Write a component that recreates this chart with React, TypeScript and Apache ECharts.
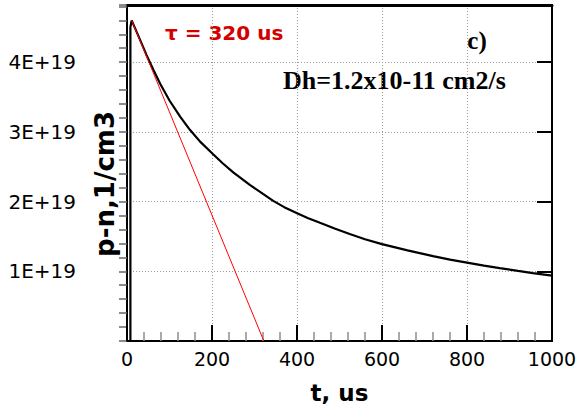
import React, { useEffect, useRef } from "react";
import * as echarts from "echarts";

// time, us
const tBlack = [8, 8, 11, 30, 46, 62, 78, 100, 125, 148, 172, 199, 225, 250, 289, 320, 344, 370, 399, 425, 454, 490, 524, 560, 600, 660, 720, 760, 800, 840, 877, 920, 955, 1000];
// p-n in units of 1E+19 1/cm3
const nBlack = [0, 4.5, 4.6, 4.33, 4.1, 3.89, 3.69, 3.45, 3.22, 3.03, 2.86, 2.7, 2.55, 2.42, 2.24, 2.11, 2.01, 1.92, 1.835, 1.765, 1.695, 1.61, 1.535, 1.46, 1.39, 1.3, 1.217, 1.168, 1.125, 1.082, 1.045, 1.005, 0.974, 0.937];

// linear decay tangent, tau = 320 us
const tRed = [11, 322];
const nRed = [4.6, 0];

const xTicks = { min: 0, max: 1000, interval: 200 };
const yTicks = { min: 0, max: 4.82, interval: 1, minor: 0.2 };

const tauLabel = "τ = 320 us";
const panelLabel = "c)";
const diffLabel = "Dh=1.2x10-11 cm2/s";
const xName = "t, us";
const yName = "p-n,1/cm3";

export default function App() {
  const ref = useRef<HTMLDivElement>(null);
  useEffect(() => {
    if (!ref.current) return;
    const chart = echarts.init(ref.current, undefined, { renderer: "svg" });
    const gridStyle = { color: "#9a9a9a", type: [1, 2] as any, width: 1 };
    chart.setOption({
      animation: false,
      backgroundColor: "#fff",
      textStyle: { fontFamily: "DejaVu Sans" },
      grid: {
        left: 127,
        right: 27,
        top: 5,
        bottom: 72,
        show: true,
        borderColor: "#000",
        borderWidth: 2,
        backgroundColor: "transparent",
        outerBoundsMode: "none",
        containLabel: false,
      },
      xAxis: [
        {
          type: "value",
          min: xTicks.min,
          max: xTicks.max,
          interval: xTicks.interval,
          position: "bottom",
          axisLine: { show: true, onZero: false, lineStyle: { color: "#000", width: 2 } },
          axisTick: { show: true, inside: true, length: 16, lineStyle: { color: "#000", width: 2 } },
          minorTick: { show: true, splitNumber: 5, length: 9, lineStyle: { color: "#8c8c8c", width: 1.5 } },
          splitLine: { show: true, lineStyle: gridStyle },
          axisLabel: {
            fontSize: 19,
            fontFamily: "DejaVu Sans",
            color: "#000",
            margin: 8,
            formatter: (v: number) => String(Math.round(v)),
          },
          name: xName,
          nameLocation: "middle",
          nameGap: 40,
          nameTextStyle: { fontSize: 23, fontWeight: "bold", fontFamily: "DejaVu Sans", color: "#000" },
        },
        {
          type: "value",
          min: xTicks.min,
          max: xTicks.max,
          position: "top",
          axisLine: { show: true, onZero: false, lineStyle: { color: "#000", width: 3 } },
          axisTick: { show: false },
          axisLabel: { show: false },
          splitLine: { show: false },
        },
      ],
      yAxis: [
        {
          type: "value",
          min: yTicks.min,
          max: yTicks.max,
          interval: yTicks.interval,
          position: "left",
          axisLine: { show: true, onZero: false, lineStyle: { color: "#000", width: 2 } },
          axisTick: { show: false },
          splitLine: { show: true, lineStyle: gridStyle },
          axisLabel: {
            fontSize: 20,
            fontFamily: "DejaVu Sans",
            color: "#000",
            margin: 51,
            showMinLabel: false,
            showMaxLabel: false,
            align: "right",
            width: 90,
            overflow: "none",
            formatter: (v: number) => (v === 0 || Math.abs(v - Math.round(v)) > 1e-6 ? "" : `${Math.round(v)}E+19`),
          },
        },
        {
          type: "value",
          min: yTicks.min,
          max: yTicks.max,
          interval: yTicks.interval,
          position: "right",
          axisLine: { show: true, onZero: false, lineStyle: { color: "#000", width: 2 } },
          axisTick: { show: true, inside: true, length: 15, lineStyle: { color: "#000", width: 2 } },
          axisLabel: { show: false },
          splitLine: { show: false },
        },
        {
          type: "value",
          min: yTicks.min,
          max: yTicks.max,
          interval: yTicks.minor,
          position: "right",
          axisLine: { show: false },
          axisTick: { show: true, inside: true, length: 8, lineStyle: { color: "#666", width: 1.5 } },
          axisLabel: { show: false },
          splitLine: { show: false },
        },
      ],
      series: [
        {
          type: "line",
          data: tBlack.map((t, i) => [t, nBlack[i]]),
          showSymbol: false,
          symbol: "none",
          lineStyle: { color: "#000", width: 2.2 },
          z: 3,
        },
        {
          type: "line",
          data: tRed.map((t, i) => [t, nRed[i]]),
          showSymbol: false,
          symbol: "none",
          lineStyle: { color: "#ff0000", width: 1 },
          z: 4,
        },
      ],
      graphic: [
        {
          type: "text",
          x: 105,
          y: 184,
          rotation: Math.PI / 2,
          style: {
            text: yName,
            fontSize: 26,
            fontWeight: "bold",
            fontFamily: "DejaVu Sans",
            fill: "#000",
            align: "center",
            verticalAlign: "middle",
          },
        },
        {
          type: "text",
          x: 165,
          y: 33,
          style: {
            text: tauLabel,
            fontSize: 20,
            fontWeight: "bold",
            fontFamily: "DejaVu Sans",
            fill: "#d40000",
            align: "left",
            verticalAlign: "middle",
          },
        },
        {
          type: "text",
          x: 477,
          y: 40,
          style: {
            text: panelLabel,
            fontSize: 25,
            fontWeight: "bold",
            fontFamily: "Liberation Serif",
            fill: "#000",
            align: "center",
            verticalAlign: "middle",
          },
        },
        {
          type: "text",
          x: 283,
          y: 80,
          style: {
            text: diffLabel,
            fontSize: 26,
            fontWeight: "bold",
            fontFamily: "Liberation Serif",
            fill: "#000",
            align: "left",
            verticalAlign: "middle",
          },
        },
      ],
    });
    return () => chart.dispose();
  }, []);
  return (
    <div
      ref={ref}
      style={{ position: "fixed", left: 0, top: 0, width: 579, height: 413, background: "#fff" }}
    />
  );
}
